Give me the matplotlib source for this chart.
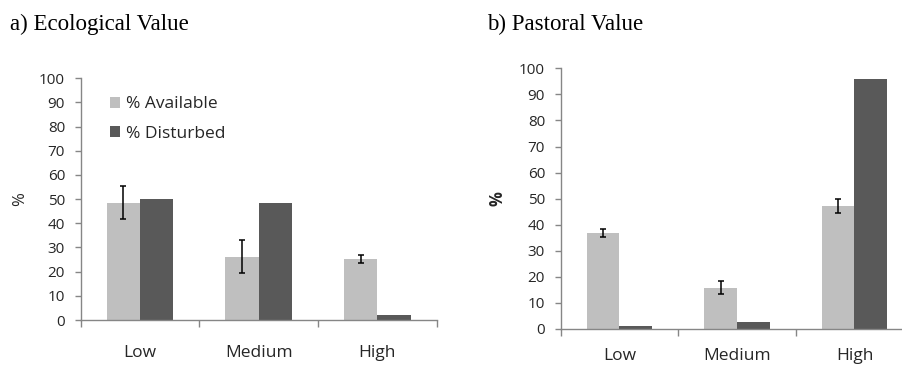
import matplotlib
matplotlib.use("Agg")
import matplotlib.pyplot as plt
import numpy as np

categories = ["Low", "Medium", "High"]
series_names = ["% Available", "% Disturbed"]

eco_available = [48.5, 26.2, 25.2]
eco_available_err = [6.8, 6.7, 1.8]
eco_disturbed = [50.0, 48.3, 2.1]

past_available = [36.7, 15.9, 47.1]
past_available_err = [1.5, 2.4, 2.7]
past_disturbed = [1.2, 2.7, 95.9]

yticks = list(range(0, 101, 10))

C_AV = "#BFBFBF"
C_DI = "#595959"
AXC = "#868686"
TXT = "#262626"
TICKFONT = "Open Sans"

W, H = 903, 370
fig = plt.figure(figsize=(W / 100, H / 100), dpi=100)


def px_axes(x0, x1, y0, y1):
    # pixel coords (top-origin) -> figure fraction
    return fig.add_axes([x0 / W, 1 - y0 / H, (x1 - x0) / W, (y0 - y1) / H])


def draw(ax, av, av_err, di, xpad):
    x = np.arange(len(categories))
    bw = 0.28
    ax.bar(x - bw / 2, av, bw, color=C_AV, label=series_names[0], zorder=2)
    ax.bar(x + bw / 2, di, bw, color=C_DI, label=series_names[1], zorder=2)
    ax.errorbar(x - bw / 2, av, yerr=av_err, fmt="none", ecolor="black",
                elinewidth=1.1, capsize=2.5, capthick=1.1, zorder=3)
    ax.set_xlim(-0.5, len(categories) - 0.5)
    ax.set_ylim(0, 100)
    ax.set_yticks(yticks)
    ax.set_yticklabels([str(v) for v in yticks], fontsize=11,
                       family=TICKFONT, color=TXT)
    ax.set_xticks(x)
    ax.set_xticklabels(categories, fontsize=12.5, family=TICKFONT, color=TXT)
    ax.set_xticks(np.arange(-0.5, len(categories), 1.0), minor=True)
    ax.tick_params(axis="x", which="major", length=0, pad=xpad)
    ax.tick_params(axis="x", which="minor", length=5, color=AXC, width=1)
    ax.tick_params(axis="y", length=4.3, color=AXC, width=1, pad=7)
    for s in ["top", "right"]:
        ax.spines[s].set_visible(False)
    for s in ["left", "bottom"]:
        ax.spines[s].set_color(AXC)
        ax.spines[s].set_linewidth(1)
    ax.set_facecolor("none")


# Left: Ecological Value
ax1 = px_axes(80.7, 436.7, 320, 78.3)
draw(ax1, eco_available, eco_available_err, eco_disturbed, 18)
leg = ax1.legend(loc="center left", bbox_to_anchor=((110 - 80.7) / 356, (320 - 119) / 241.7),
                 frameon=False, borderpad=0, borderaxespad=0,
                 handlelength=0.58, handleheight=0.58, handletextpad=0.35,
                 labelspacing=0.75, prop={"family": TICKFONT, "size": 12.5})
for t in leg.get_texts():
    t.set_color(TXT)

# Right: Pastoral Value
ax2 = px_axes(560.7, 913.2, 329, 68.3)
draw(ax2, past_available, past_available_err, past_disturbed, 14)

# Titles
fig.text(10 / W, 1 - 24 / H, "a) Ecological Value", family="Liberation Serif",
         fontsize=16.5, va="center", ha="left", color="black")
fig.text(487 / W, 1 - 24 / H, "b) Pastoral Value", family="Liberation Serif",
         fontsize=16.5, va="center", ha="left", color="black")

# Y labels
fig.text(20 / W, 1 - 199 / H, "%", rotation=90, family=TICKFONT, fontsize=12,
         va="center", ha="center", color=TXT)
fig.text(498 / W, 1 - 198.5 / H, "%", rotation=90, family=TICKFONT, fontsize=12,
         fontweight="bold", va="center", ha="center", color=TXT)

fig.savefig("out.png", dpi=100)
